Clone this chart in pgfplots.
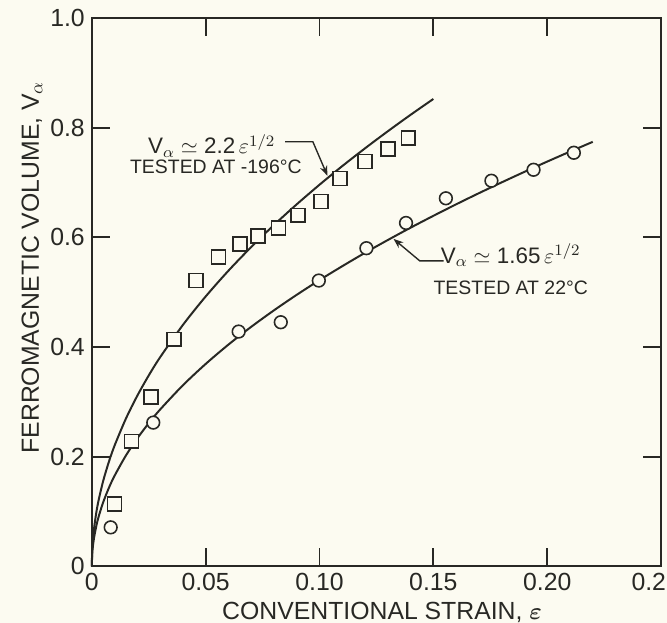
\documentclass[border=0pt]{standalone}
\usepackage{amsmath}
\usepackage{pgfplots}
\pgfplotsset{compat=1.18}
\usetikzlibrary{arrows.meta}
\usepackage{fontspec}
\setmainfont{Liberation Sans}
\definecolor{paper}{RGB}{252,251,241}
\definecolor{ink}{RGB}{40,40,36}

\begin{document}
\pagecolor{paper}
\begin{tikzpicture}
\begin{axis}[
  name=ax,
  scale only axis,
  width=287pt, height=276.5pt,
  xmin=0, xmax=0.25, ymin=0, ymax=1,
  axis line style={ink, line width=1pt},
  every tick/.style={ink, line width=1pt},
  tick align=inside,
  major tick length=9pt,
  xtick={0,0.05,0.10,0.15,0.20,0.25},
  xticklabels={0,0.05,0.10,0.15,0.20,\makebox[0pt][r]{0.2\kern-2.5pt}},
  ytick={0,0.2,0.4,0.6,0.8,1.0},
  yticklabels={0,0.2,0.4,0.6,0.8,1.0},
  ticklabel style={font=\fontsize{12.5}{14}\selectfont, text=ink},
  xlabel={CONVENTIONAL STRAIN, $\boldsymbol{\varepsilon}$},
  ylabel={FERROMAGNETIC VOLUME, V$_{\alpha}$},
  label style={font=\fontsize{12.5}{14}\selectfont, text=ink},
  xlabel style={at={(axis description cs:0.51,-0.085)}, anchor=center},
  ylabel style={at={(axis description cs:-0.105,0.545)}, anchor=center},
  clip=false,
]
% fitted curve, tested at -196 C
\addplot[ink, line width=1pt, smooth] coordinates {
  (0,0) (0.0002,0.0311) (0.0005,0.0492) (0.001,0.0696) (0.002,0.0984)
  (0.003,0.1205) (0.005,0.1556) (0.0075,0.1905) (0.01,0.22) (0.015,0.2694)
  (0.02,0.3111) (0.025,0.3479) (0.03,0.3811) (0.04,0.44) (0.05,0.4919)
  (0.06,0.5389) (0.07,0.5821) (0.08,0.6223) (0.09,0.66) (0.10,0.6957)
  (0.11,0.7297) (0.12,0.7621) (0.13,0.7932) (0.14,0.8232) (0.15,0.8521)};
% fitted curve, tested at 22 C
\addplot[ink, line width=1pt, smooth] coordinates {
  (0,0) (0.0002,0.0233) (0.0005,0.0369) (0.001,0.0522) (0.002,0.0738)
  (0.003,0.0904) (0.005,0.1167) (0.0075,0.1429) (0.01,0.165) (0.015,0.2021)
  (0.02,0.2333) (0.025,0.2609) (0.03,0.2858) (0.04,0.33) (0.05,0.3689)
  (0.06,0.4042) (0.07,0.4366) (0.08,0.4667) (0.09,0.495) (0.10,0.5218)
  (0.11,0.5472) (0.12,0.5716) (0.13,0.5949) (0.14,0.6174) (0.15,0.639)
  (0.16,0.66) (0.17,0.6803) (0.18,0.70) (0.19,0.7192) (0.20,0.7379)
  (0.21,0.7561) (0.22,0.7739)};
% data, -196 C
\addplot[only marks, mark=square*, mark size=3.5pt,
  mark options={draw=ink, fill=paper, line width=0.8pt}] coordinates {
  (0.010,0.114) (0.0174,0.228) (0.026,0.309) (0.036,0.414) (0.0457,0.521)
  (0.0557,0.564) (0.065,0.588) (0.073,0.602) (0.082,0.617) (0.0906,0.640)
  (0.1006,0.665) (0.109,0.707) (0.120,0.738) (0.130,0.761) (0.139,0.781)};
% data, 22 C
\addplot[only marks, mark=*, mark size=3.2pt,
  mark options={draw=ink, fill=paper, line width=0.8pt}] coordinates {
  (0.0083,0.071) (0.027,0.262) (0.0645,0.428) (0.083,0.445) (0.0997,0.521)
  (0.1206,0.580) (0.138,0.626) (0.1555,0.671) (0.1755,0.703) (0.194,0.723)
  (0.2117,0.754)};
% annotations
\node[inner sep=0.5pt, font=\fontsize{11.3}{13}\selectfont, text=ink] at (axis cs:0.0527,0.767)
  {V$_{\alpha}\simeq$ 2.2\,$\varepsilon^{1/2}$};
\node[inner sep=0.5pt, font=\fontsize{9.8}{11}\selectfont, text=ink] at (axis cs:0.0545,0.728)
  {TESTED AT -196°C};
\draw[ink, line width=0.7pt, -{Stealth[length=5pt]}]
  (axis cs:0.0849,0.774) -- (axis cs:0.0971,0.774) -- (axis cs:0.1035,0.712);
\node[inner sep=0.5pt, font=\fontsize{11.3}{13}\selectfont, text=ink] at (axis cs:0.184,0.568)
  {V$_{\alpha}\simeq$ 1.65\,$\varepsilon^{1/2}$};
\node[inner sep=0.5pt, font=\fontsize{9.8}{11}\selectfont, text=ink] at (axis cs:0.184,0.507)
  {TESTED AT 22°C};
\draw[ink, line width=0.7pt, -{Stealth[length=5pt]}]
  (axis cs:0.1545,0.557) -- (axis cs:0.144,0.557) -- (axis cs:0.1325,0.597);
\end{axis}
\pgfresetboundingbox
\path[use as bounding box] ([xshift=-43.5pt,yshift=-28.5pt]ax.south west)
  rectangle ([xshift=3pt,yshift=9pt]ax.north east);
\end{tikzpicture}
\end{document}
